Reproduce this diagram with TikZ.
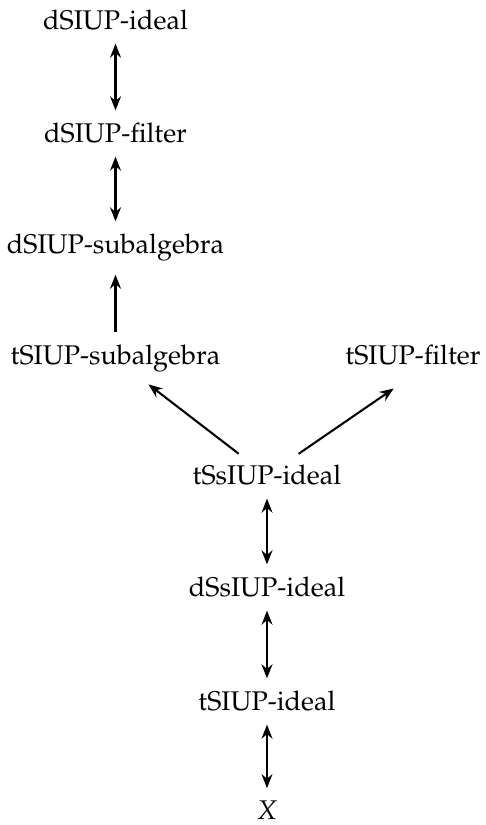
\documentclass[tikz,border=0pt]{standalone}
\usepackage[T1]{fontenc}
\usepackage{mathpazo}
\usetikzlibrary{arrows.meta}
\tikzset{lat/.style={x=3.85pt,y=3.85pt,thick,
    >={Stealth[length=5.4pt,width=4.2pt]}},
  lbl/.style={anchor=base,font=\fontsize{10.4pt}{12pt}\selectfont},
  arr/.style={shorten <=1.3pt,shorten >=1.3pt}}

\begin{document}
\begin{tikzpicture}[lat]
  \useasboundingbox (0,0) rectangle (48.5,82.5);
  % left column
  \node[lbl] (dideal) at (11.55,79.5){dSIUP-ideal};
  \node[lbl] (dfilt) at (11.55,68.2){dSIUP-filter};
  \node[lbl] (dsub) at (11.55,57.1){dSIUP-subalgebra};
  \node[lbl] (tsub) at (11.55,46.0){tSIUP-subalgebra};
  \node[lbl] (tfilt) at (41.3,46.0){tSIUP-filter};
  % right column
  \node[lbl] (tsside) at (26.7,34.0){tSsIUP-ideal};
  \node[lbl] (dsside) at (26.7,22.8){dSsIUP-ideal};
  \node[lbl] (tideal) at (26.7,11.4){tSIUP-ideal};
  \node[lbl] (x) at (26.7,0.5){\textit{X}};
  \draw[arr,<->] (dideal)--(dfilt);\draw[arr,<->] (dfilt)--(dsub);
  \draw[arr,->] (tsub)--(dsub);
  \draw[arr,->] (tsside)--(tsub);\draw[arr,->,shorten >=9pt] (tsside)--(tfilt.south);
  \draw[arr,<->] (tsside)--(dsside);\draw[arr,<->] (dsside)--(tideal);
  \draw[arr,<->] (tideal)--(x);
\end{tikzpicture}
\end{document}
